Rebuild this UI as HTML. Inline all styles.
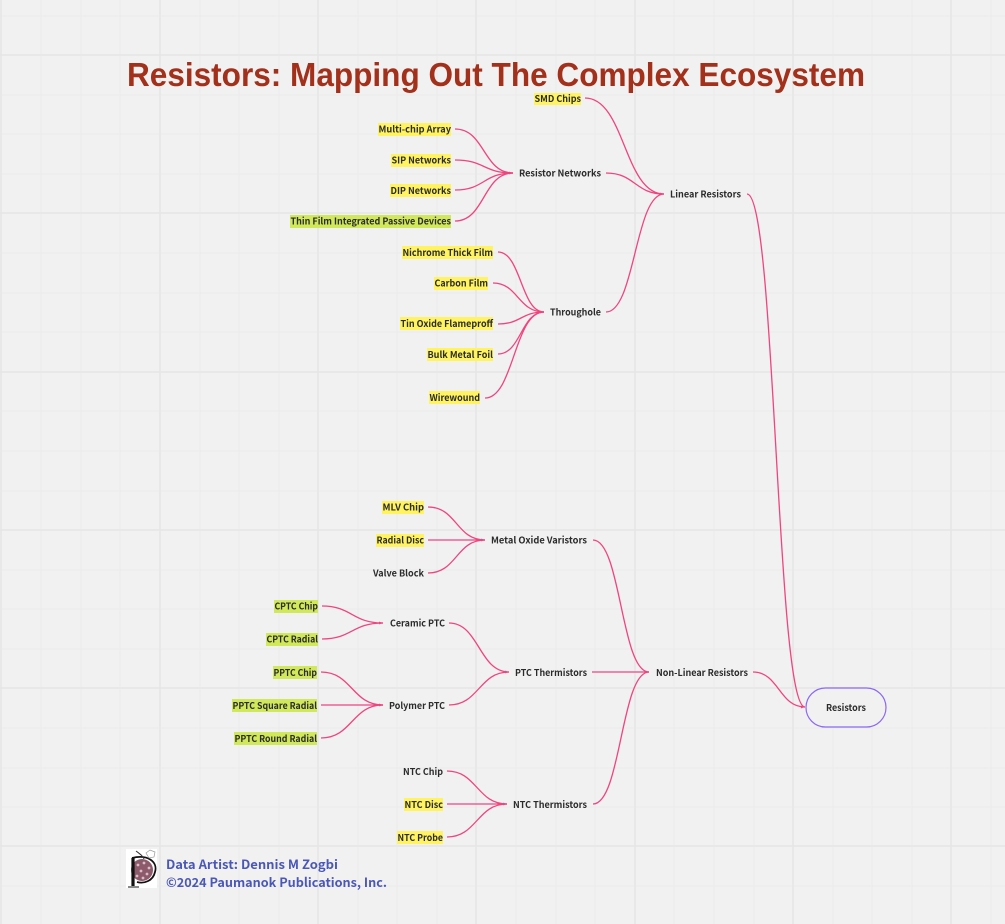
<!DOCTYPE html>
<html><head><meta charset="utf-8"><style>
html,body{margin:0;padding:0;background:#f1f1f1;width:1005px;height:924px;overflow:hidden}
svg{display:block}
.l{font-family:"Noto Sans CJK JP","Liberation Sans",sans-serif;font-weight:700;font-size:9.2px;fill:#2b2b2b;text-anchor:end;dominant-baseline:central;filter:blur(.25px)}
.c{fill:none;stroke:#f0447f;stroke-width:1.3}
.min{stroke:#ececec;stroke-width:1.2}
.maj{stroke:#e6e6e6;stroke-width:1.6}
</style></head><body>
<svg width="1005" height="924" viewBox="0 0 1005 924" xmlns="http://www.w3.org/2000/svg">
<g class="min">
<path d="M41 0V924M81 0V924M120 0V924M200 0V924M239 0V924M279 0V924M358 0V924M397 0V924M437 0V924M516 0V924M556 0V924M595 0V924M674 0V924M714 0V924M754 0V924M833 0V924M872 0V924M912 0V924M991 0V924"/>
<path d="M0 16H1005M0 95H1005M0 134H1005M0 174H1005M0 253H1005M0 293H1005M0 332H1005M0 411H1005M0 451H1005M0 491H1005M0 570H1005M0 609H1005M0 649H1005M0 728H1005M0 768H1005M0 807H1005M0 886H1005"/>
</g>
<g class="maj">
<path d="M1 0V924M160 0V924M318 0V924M476 0V924M635 0V924M793 0V924M951 0V924"/>
<path d="M0 55H1005M0 213H1005M0 372H1005M0 530H1005M0 688H1005M0 846H1005"/>
</g>
<g fill="#fff45f">
<rect x="534" y="93" width="47" height="12"/><rect x="378" y="123" width="73" height="13"/><rect x="391" y="154" width="60" height="13"/><rect x="390" y="184" width="61" height="13"/>
<rect x="402" y="246" width="91" height="13"/><rect x="434" y="277" width="54" height="13"/><rect x="400" y="317" width="93" height="13"/><rect x="427" y="348" width="66" height="13"/><rect x="429" y="391" width="51" height="13"/>
<rect x="382" y="501" width="42" height="13"/><rect x="376" y="534" width="48" height="13"/><rect x="404" y="798" width="39" height="13"/><rect x="397" y="831" width="46" height="13"/>
</g>
<g fill="#d0e85a">
<rect x="290" y="215" width="161" height="13"/><rect x="274" y="600" width="44" height="13"/><rect x="266" y="633" width="52" height="13"/><rect x="273" y="666" width="44" height="13"/><rect x="232" y="699" width="85" height="13"/><rect x="234" y="732" width="83" height="13"/>
</g>
<g class="c">
<path d="M585 98C625 98 624 194 664 194"/>
<path d="M455 129C485 129 483 173 513 173"/><path d="M455 160C485 160 483 173 513 173"/><path d="M455 190C485 190 483 173 513 173"/><path d="M455 221C485 221 483 173 513 173"/>
<path d="M606 173C635 173 635 194 664 194"/><path d="M606 312C635 312 635 194 664 194"/>
<path d="M747 194C776 194 776 707 805 707"/>
<path d="M498 252C521 252 521 312 544 312"/><path d="M493 283C518 283 518 312 544 312"/><path d="M498 324C521 324 521 312 544 312"/><path d="M498 354C521 354 521 312 544 312"/><path d="M485 398C514 398 514 312 544 312"/>
<path d="M428 507C457 507 456 540 485 540"/><path d="M428 540H485"/><path d="M428 573C457 573 456 540 485 540"/>
<path d="M593 540C621 540 621 672 649 672"/>
<path d="M322 606C352 606 352 623 383 623"/><path d="M322 639C352 639 352 623 383 623"/>
<path d="M321 672C352 672 352 705 383 705"/><path d="M321 705H383"/><path d="M321 738C352 738 352 705 383 705"/>
<path d="M449 623C479 623 479 672 509 672"/><path d="M449 705C479 705 479 672 509 672"/>
<path d="M592 672H649"/><path d="M593 804C621 804 621 672 649 672"/>
<path d="M447 771C477 771 477 804 507 804"/><path d="M447 804H507"/><path d="M447 837C477 837 477 804 507 804"/>
<path d="M753 672C779 672 779 707 805 707"/>
</g>
<g fill="#f0447f">
<path d="M664 194l-4-1.4v2.8zM513 173l-4-1.4v2.8zM544 312l-4-1.4v2.8zM485 540l-4-1.4v2.8zM649 672l-4-1.4v2.8zM383 623l-4-1.4v2.8zM383 705l-4-1.4v2.8zM509 672l-4-1.4v2.8zM507 804l-4-1.4v2.8zM805 707l-4-1.4v2.8z"/>
</g>
<rect x="806" y="688" width="80" height="39" rx="19.5" fill="#f1f1f1" stroke="#8a68f6" stroke-width="1.2"/>
<text x="127" y="86" font-family="'Liberation Sans',sans-serif" font-weight="700" font-size="33" fill="#a3301a" textLength="738" lengthAdjust="spacingAndGlyphs">Resistors: Mapping Out The Complex Ecosystem</text>
<g>
<text class="l" x="581" y="98" textLength="46.5" lengthAdjust="spacingAndGlyphs">SMD Chips</text>
<text class="l" x="451" y="128.5" textLength="72.5" lengthAdjust="spacingAndGlyphs">Multi-chip Array</text>
<text class="l" x="451" y="159.5" textLength="59.5" lengthAdjust="spacingAndGlyphs">SIP Networks</text>
<text class="l" x="451" y="190" textLength="60.5" lengthAdjust="spacingAndGlyphs">DIP Networks</text>
<text class="l" x="451" y="220.5" textLength="160.5" lengthAdjust="spacingAndGlyphs">Thin Film Integrated Passive Devices</text>
<text class="l" x="601" y="172.5" textLength="82" lengthAdjust="spacingAndGlyphs">Resistor Networks</text>
<text class="l" x="741" y="193.5" textLength="71" lengthAdjust="spacingAndGlyphs">Linear Resistors</text>
<text class="l" x="493" y="252" textLength="90.5" lengthAdjust="spacingAndGlyphs">Nichrome Thick Film</text>
<text class="l" x="488" y="282.5" textLength="53.5" lengthAdjust="spacingAndGlyphs">Carbon Film</text>
<text class="l" x="493" y="323" textLength="92.5" lengthAdjust="spacingAndGlyphs">Tin Oxide Flameproff</text>
<text class="l" x="493" y="354" textLength="65.5" lengthAdjust="spacingAndGlyphs">Bulk Metal Foil</text>
<text class="l" x="480" y="397" textLength="50.5" lengthAdjust="spacingAndGlyphs">Wirewound</text>
<text class="l" x="601" y="311.5" textLength="51" lengthAdjust="spacingAndGlyphs">Throughole</text>
<text class="l" x="424" y="506.5" textLength="41.5" lengthAdjust="spacingAndGlyphs">MLV Chip</text>
<text class="l" x="424" y="539.5" textLength="47.5" lengthAdjust="spacingAndGlyphs">Radial Disc</text>
<text class="l" x="424" y="572.5" textLength="51" lengthAdjust="spacingAndGlyphs">Valve Block</text>
<text class="l" x="587" y="539.5" textLength="96" lengthAdjust="spacingAndGlyphs">Metal Oxide Varistors</text>
<text class="l" x="318" y="605.5" textLength="43.5" lengthAdjust="spacingAndGlyphs">CPTC Chip</text>
<text class="l" x="318" y="638.5" textLength="51.5" lengthAdjust="spacingAndGlyphs">CPTC Radial</text>
<text class="l" x="317" y="672" textLength="43.5" lengthAdjust="spacingAndGlyphs">PPTC Chip</text>
<text class="l" x="317" y="705" textLength="84.5" lengthAdjust="spacingAndGlyphs">PPTC Square Radial</text>
<text class="l" x="317" y="738" textLength="82.5" lengthAdjust="spacingAndGlyphs">PPTC Round Radial</text>
<text class="l" x="445" y="622.5" textLength="55" lengthAdjust="spacingAndGlyphs">Ceramic PTC</text>
<text class="l" x="445" y="705" textLength="56" lengthAdjust="spacingAndGlyphs">Polymer PTC</text>
<text class="l" x="587" y="672" textLength="72" lengthAdjust="spacingAndGlyphs">PTC Thermistors</text>
<text class="l" x="748" y="672" textLength="92" lengthAdjust="spacingAndGlyphs">Non-Linear Resistors</text>
<text class="l" x="443" y="771" textLength="40" lengthAdjust="spacingAndGlyphs">NTC Chip</text>
<text class="l" x="443" y="804" textLength="38.5" lengthAdjust="spacingAndGlyphs">NTC Disc</text>
<text class="l" x="443" y="837" textLength="45.5" lengthAdjust="spacingAndGlyphs">NTC Probe</text>
<text class="l" x="587" y="804" textLength="74" lengthAdjust="spacingAndGlyphs">NTC Thermistors</text>
<text class="l" x="866" y="707" textLength="40" lengthAdjust="spacingAndGlyphs">Resistors</text>
</g>
<rect x="126" y="849" width="31" height="39" fill="#fff"/>
<circle cx="142" cy="870" r="11" fill="#8d5a6c"/>
<g fill="#d9bcc6"><circle cx="138" cy="865" r="1.4"/><circle cx="144" cy="863" r="1.4"/><circle cx="149" cy="868" r="1.4"/><circle cx="141" cy="871" r="1.4"/><circle cx="147" cy="874" r="1.4"/><circle cx="137" cy="876" r="1.4"/><circle cx="143" cy="878" r="1.4"/></g>
<path d="M132 858C148 854 158 862 155 872C153 881 144 884 137 882" fill="none" stroke="#111" stroke-width="1.8"/>
<path d="M133 858V886" stroke="#111" stroke-width="3.2"/>
<path d="M128 887H139" stroke="#111" stroke-width="1"/>
<path d="M136 851C140 854 143 856 144 859" fill="none" stroke="#333" stroke-width="1"/>
<path d="M146 853l4-3 5 2-1 5-5 1z" fill="#fff" stroke="#999" stroke-width=".7"/>
<g font-family="'Noto Sans CJK JP','Liberation Sans',sans-serif" font-weight="700" font-size="12.6" fill="#4a57b8">
<text x="166" y="869" textLength="172" lengthAdjust="spacingAndGlyphs">Data Artist: Dennis M Zogbi</text>
<text x="166" y="887" textLength="221" lengthAdjust="spacingAndGlyphs">©2024 Paumanok Publications, Inc.</text>
</g>
</svg>
</body></html>
